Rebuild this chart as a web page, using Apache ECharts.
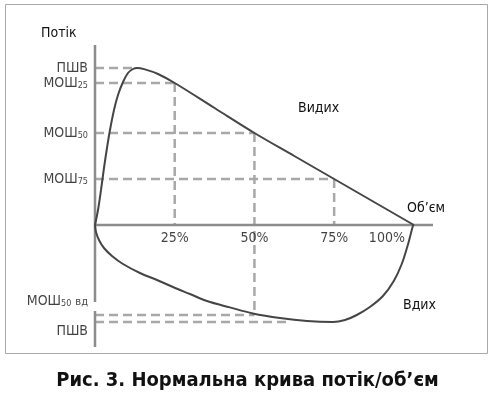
<!DOCTYPE html>
<html><head><meta charset="utf-8">
<script src="https://cdn.jsdelivr.net/npm/echarts@6/dist/echarts.min.js"></script>
<style>html,body{margin:0;padding:0;background:#fff}#c{width:495px;height:394px}</style>
</head><body><div id="c"></div><script>
// Volume (% of vital capacity) and flow (arbitrary units)
const expVolume = [0, 0.94, 1.88, 2.82, 3.76, 4.7, 5.96, 7.21, 8.78, 10.34, 11.91, 13.17, 15.67, 19.75, 25, 37.5, 50, 62.5, 75, 87.5, 100];
const expFlow   = [0, 0.75, 1.75, 2.85, 3.85, 4.75, 5.75, 6.5, 7.15, 7.6, 7.8, 7.85, 7.78, 7.55, 7.1, 5.85, 4.6, 3.45, 2.3, 1.15, 0];
const inspVolume = [100, 99.7, 99.1, 98.1, 96.2, 93.7, 90.3, 86.2, 82.1, 78.4, 74.6, 66.5, 58.0, 49.5, 42.3, 35.1, 29.78, 24.45, 19.44, 14.1, 8.78, 5.33, 2.82, 1.25, 0.31, 0];
const inspFlow   = [0, -0.05, -0.4, -1.0, -1.95, -2.8, -3.55, -4.1, -4.5, -4.75, -4.85, -4.8, -4.65, -4.42, -4.12, -3.8, -3.45, -3.1, -2.75, -2.4, -1.95, -1.55, -1.15, -0.75, -0.35, 0];
const volumeTicks = [25, 50, 75, 100];
const volumeTickLabels = ['25%', '50%', '75%', '100%'];
const expRefNames = ['ПШВ', 'МОШ{s|25}', 'МОШ{s|50}', 'МОШ{s|75}'];
const expRefFlow = [7.85, 7.1, 4.6, 2.3];
const expRefVolume = [12.5, 25, 50, 75];
const inspRefNames = ['МОШ{s|50} {v|вд}', 'ПШВ'];
const inspRefFlow = [-4.5, -4.85];
const inspRefVolume = [50, 61];
const titleText = 'Рис. 3. Нормальна крива потік/об\u2019єм';

const FONT = '"DejaVu Sans Condensed","DejaVu Sans",sans-serif';
const xMax = 106, yMax = 9, yMin = -6.1;
const chart = echarts.init(document.getElementById('c'));

const series = [];
const dashStyle = {color: '#a8a8a8', width: 2.5, type: [9, 5]};
function seg(data, style, z) {
  series.push({type: 'line', data: data, symbol: 'none', silent: true, animation: false, lineStyle: style, z: z});
}
// reference dashed lines (expiration)
expRefFlow.forEach((f, i) => {
  seg([[0, f], [expRefVolume[i], f]], dashStyle, 1);
});
// vertical dashed lines at 25/50/75 %
[1, 2, 3].forEach(i => {
  const v = expRefVolume[i];
  const end = v === inspRefVolume[0] ? inspRefFlow[0] : 0;
  seg([[v, expRefFlow[i]], [v, end]], dashStyle, 1);
});
// inspiration dashed lines
inspRefFlow.forEach((f, i) => {
  seg([[0, f], [inspRefVolume[i], f]], dashStyle, 1);
});
// axes
const axisStyle = {color: '#8c8c8c', width: 2.5};
seg([[0, 0], [xMax, 0]], axisStyle, 2);
seg([[0, yMax], [0, -3.85]], axisStyle, 2);
seg([[0, -4.3], [0, yMin]], axisStyle, 2);
// curves
const curveStyle = {color: '#454545', width: 2};
series.push({type: 'line', data: expVolume.map((v, i) => [v, expFlow[i]]), smooth: 0.35, symbol: 'none', lineStyle: curveStyle, z: 3, animation: false});
series.push({type: 'line', data: inspVolume.map((v, i) => [v, inspFlow[i]]), smooth: 0.35, symbol: 'none', lineStyle: curveStyle, z: 3, animation: false});

const rich = {
  s: {fontFamily: FONT, fontSize: 9, color: '#111', padding: [6, 0, 0, 0]},
  v: {fontFamily: FONT, fontSize: 11, color: '#111', padding: [2, 0, 0, 0]}
};
// y labels
series.push({
  type: 'scatter', symbolSize: 0, z: 5, animation: false, silent: true,
  data: expRefNames.map((n, i) => ({value: [0, expRefFlow[i]], name: n}))
    .concat(inspRefNames.map((n, i) => ({value: [0, inspRefFlow[i]], name: n, label: {offset: [0, i === 0 ? -14 : 9]}}))),
  label: {show: true, position: 'left', distance: 7, formatter: p => p.name,
    fontFamily: FONT, fontSize: 14, color: '#111', rich: rich}
});
// x tick labels
series.push({
  type: 'scatter', symbolSize: 0, z: 5, animation: false, silent: true,
  data: volumeTicks.map((v, i) => ({value: [v, 0], name: volumeTickLabels[i], label: {offset: [v === 100 ? -27 : 0, 0]}})),
  label: {show: true, position: 'bottom', distance: 6, formatter: p => p.name,
    fontFamily: FONT, fontSize: 14, color: '#111'}
});

const txt = (text, x, y, size, extra) => Object.assign({
  type: 'text', x: x, y: y, style: {text: text, font: (size || 14) + 'px ' + FONT, fill: '#111', textVerticalAlign: 'middle'}
}, extra || {});

chart.setOption({
  animation: false,
  grid: {left: 95, top: 45, width: 338, height: 302},
  xAxis: {type: 'value', min: 0, max: xMax, show: false},
  yAxis: {type: 'value', min: yMin, max: yMax, show: false},
  title: {text: titleText, left: 'center', top: 366,
    textStyle: {fontFamily: FONT, fontSize: 20, fontWeight: 'bold', color: '#111'}},
  graphic: [
    {type: 'rect', shape: {x: 5.5, y: 4.5, width: 482, height: 349}, style: {fill: null, stroke: '#a9a9a9', lineWidth: 1}, z: 0},
    txt('Потік', 41, 33),
    txt('Видих', 298, 108),
    txt('Об\u2019єм', 407, 208),
    txt('Вдих', 403, 305)
  ],
  series: series
});
</script></body></html>
